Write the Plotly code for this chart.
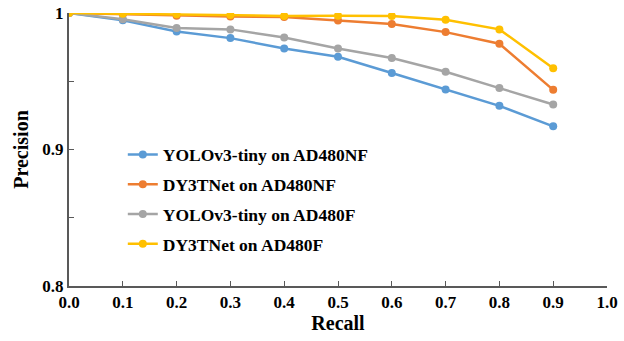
import plotly.graph_objects as go

recall = [0.0, 0.1, 0.2, 0.3, 0.4, 0.5, 0.6, 0.7, 0.8, 0.9]
yolo_nf = [1.0, 0.9946, 0.9865, 0.9816, 0.974, 0.968, 0.956, 0.944, 0.932, 0.917]
dy3_nf = [1.0, 0.999, 0.998, 0.9975, 0.997, 0.9945, 0.992, 0.986, 0.9775, 0.9437]
yolo_f = [1.0, 0.9954, 0.989, 0.988, 0.982, 0.974, 0.967, 0.957, 0.945, 0.933]
dy3_f = [1.0, 0.9995, 0.999, 0.9985, 0.9978, 0.998, 0.9978, 0.995, 0.988, 0.9596]

series_names = ["YOLOv3-tiny on AD480NF", "DY3TNet on AD480NF",
                "YOLOv3-tiny on AD480F", "DY3TNet on AD480F"]
series_values = [yolo_nf, dy3_nf, yolo_f, dy3_f]
colors = ["#5B9BD5", "#ED7D31", "#A5A5A5", "#FFC000"]

x_tickvals = [0.0, 0.1, 0.2, 0.3, 0.4, 0.5, 0.6, 0.7, 0.8, 0.9, 1.0]
x_ticktext = ["0.0", "0.1", "0.2", "0.3", "0.4", "0.5", "0.6", "0.7", "0.8", "0.9", "1.0"]
y_tickvals = [0.8, 0.9, 1.0]
y_ticktext = ["0.8", "0.9", "1"]

FONT = "Liberation Serif"

fig = go.Figure()
for i, (name, vals, c) in enumerate(zip(series_names, series_values, colors)):
    fig.add_trace(go.Scatter(
        x=recall, y=vals, name=name, mode="lines+markers",
        line=dict(color=c, width=2.5),
        marker=dict(color=c, size=8, symbol="circle"),
        legendgroup=f"g{i}",
    ))

axis_color = "#595959"
fig.update_layout(
    width=624, height=341,
    margin=dict(l=69, r=17, t=13, b=55, autoexpand=False),
    paper_bgcolor="white", plot_bgcolor="white",
    font=dict(family=FONT, color="black", weight="bold"),
    showlegend=True,
    legend=dict(
        x=0.10, y=0.547, xanchor="left", yanchor="top",
        bgcolor="rgba(0,0,0,0)",
        font=dict(family=FONT, size=17.5, color="black", weight="bold"),
        traceorder="grouped", tracegroupgap=4,
        itemwidth=30,
    ),
    xaxis=dict(
        range=[0, 1.0], tickvals=x_tickvals, ticktext=x_ticktext,
        ticks="inside", ticklen=5, tickcolor=axis_color, tickwidth=1.3,
        showline=True, linecolor=axis_color, linewidth=2,
        showgrid=False, zeroline=False, automargin=False,
        tickfont=dict(family=FONT, size=17, color="black", weight="bold"),
        title=dict(text="Recall", font=dict(family=FONT, size=20, color="black", weight="bold"),
                   standoff=4),
    ),
    yaxis=dict(
        range=[0.8, 1.0], tickvals=y_tickvals, ticktext=y_ticktext,
        ticks="inside", ticklen=5, tickcolor=axis_color, tickwidth=1.3,
        minor=dict(dtick=0.05, tick0=0.8, ticks="inside", ticklen=5, tickcolor=axis_color, tickwidth=1.3),
        showline=True, linecolor=axis_color, linewidth=2,
        showgrid=False, zeroline=False, automargin=False,
        tickfont=dict(family=FONT, size=17, color="black", weight="bold"),
        title=dict(text="Precision", font=dict(family=FONT, size=20, color="black", weight="bold"),
                   standoff=8),
    ),
)

fig.write_html("out.html")
